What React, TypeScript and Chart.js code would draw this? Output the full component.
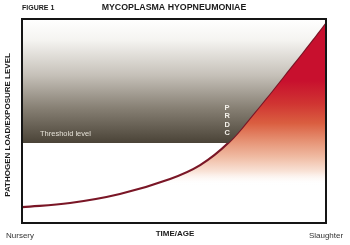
import React, { useEffect, useRef } from "react";
import { Chart, registerables } from "chart.js";

Chart.register(...registerables);

// Curve: pathogen load over time (0 = Nursery, 100 = Slaughter)
const curveX = [0, 15.8, 32.2, 48.7, 58.6, 67.8, 76.6, 85.9, 94.7, 100];
const curveY = [7.8, 9.8, 14.2, 21.6, 28.4, 39.2, 54.4, 71.6, 88.2, 98.5];
const thresholdLevel = 39.2;
const crossingX = 67.8;
const dashedRange = [70.4, 98.7];

const titleText = "MYCOPLASMA HYOPNEUMONIAE";
const figureText = "FIGURE 1";
const xTitle = "TIME/AGE";
const yTitle = "PATHOGEN LOAD/EXPOSURE LEVEL";
const xTickLabels = ["Nursery", "Slaughter"];
const thresholdLabel = "Threshold level";
const crossingLabel = ["P", "R", "D", "C"];

export default function App() {
  const ref = useRef<HTMLCanvasElement>(null);
  useEffect(() => {
    if (!ref.current) return;
    const curve = curveX.map((x, i) => ({ x, y: curveY[i] }));
    const font = "'Liberation Sans', Arial, sans-serif";

    const textPlugin = {
      id: "texts",
      afterDraw(chart: any) {
        const { ctx, chartArea: a, scales } = chart;
        const xs = scales.x;
        const ys = scales.y;
        ctx.save();
        ctx.strokeStyle = "#151515";
        ctx.lineWidth = 2;
        ctx.strokeRect(a.left, a.top, a.right - a.left, a.bottom - a.top);
        ctx.textBaseline = "middle";
        ctx.fillStyle = "#1a1a1a";
        ctx.font = `bold 7px ${font}`;
        ctx.textAlign = "left";
        ctx.fillText(figureText, a.left, 8);
        ctx.font = `bold 8.8px ${font}`;
        ctx.textAlign = "center";
        ctx.fillText(titleText, 174, 8);
        ctx.font = `bold 8px ${font}`;
        ctx.fillText(xTitle, 175, 234);
        ctx.fillStyle = "#333";
        ctx.font = `8px ${font}`;
        ctx.fillText(xTickLabels[0], xs.getPixelForValue(0) - 2, 236);
        ctx.fillText(xTickLabels[1], xs.getPixelForValue(100), 236);
        ctx.save();
        ctx.fillStyle = "#1a1a1a";
        ctx.translate(8, 125);
        ctx.rotate(-Math.PI / 2);
        ctx.font = `bold 8px ${font}`;
        ctx.fillText(yTitle, 0, 0);
        ctx.restore();
        ctx.fillStyle = "#e4e0d6";
        ctx.font = `7.5px ${font}`;
        ctx.textAlign = "left";
        ctx.fillText(thresholdLabel, 40, ys.getPixelForValue(thresholdLevel) - 9);
        ctx.fillStyle = "#f4f1ea";
        ctx.font = `bold 7.5px ${font}`;
        ctx.textAlign = "center";
        const px = xs.getPixelForValue(crossingX) - 1;
        const base = ys.getPixelForValue(thresholdLevel) - 10;
        crossingLabel.forEach((c, i) => {
          ctx.fillText(c, px, base - (crossingLabel.length - 1 - i) * 8.5);
        });
        ctx.restore();
      },
    };

    const chart = new Chart(ref.current, {
      type: "line",
      data: {
        datasets: [
          {
            data: curve,
            borderWidth: 0,
            pointRadius: 0,
            tension: 0.4,
            fill: "end",
            backgroundColor: (c: any) => {
              const a = c.chart.chartArea;
              if (!a) return "#888";
              const ty = c.chart.scales.y.getPixelForValue(thresholdLevel);
              const g = c.chart.ctx.createLinearGradient(0, a.top, 0, a.bottom);
              const f = (y: number) => (y - a.top) / (a.bottom - a.top);
              g.addColorStop(0, "#ffffff");
              g.addColorStop(f(40), "#f5f4f1");
              g.addColorStop(f(75), "#c6c1b9");
              g.addColorStop(f(108), "#878074");
              g.addColorStop(f(ty), "#4a4337");
              g.addColorStop(f(ty) + 0.001, "rgba(255,255,255,0)");
              g.addColorStop(1, "rgba(255,255,255,0)");
              return g;
            },
          },
          {
            data: curve,
            borderWidth: 2.2,
            borderColor: "#7a1626",
            pointRadius: 0,
            tension: 0.4,
            fill: "start",
            backgroundColor: (c: any) => {
              const a = c.chart.chartArea;
              if (!a) return "#c8102e";
              const g = c.chart.ctx.createLinearGradient(0, 22, 0, 185);
              g.addColorStop(0, "#c8102e");
              g.addColorStop(0.36, "#c8102e");
              g.addColorStop(0.5, "#d03432");
              g.addColorStop(0.62, "#da5e40");
              g.addColorStop(0.73, "#e69274");
              g.addColorStop(0.83, "#f0bca4");
              g.addColorStop(0.92, "#f9e4d9");
              g.addColorStop(1, "rgba(255,255,255,0)");
              return g;
            },
          },
          {
            data: [
              { x: dashedRange[0], y: thresholdLevel },
              { x: dashedRange[1], y: thresholdLevel },
            ],
            borderWidth: 1,
            borderColor: "#d47a55",
            borderDash: [3, 3],
            pointRadius: 0,
            fill: false,
          },
        ],
      },
      options: {
        animation: false,
        responsive: true,
        maintainAspectRatio: false,
        layout: { padding: { left: 22, right: 24, top: 19, bottom: 22 } },
        plugins: { legend: { display: false }, tooltip: { enabled: false }, title: { display: false } },
        scales: {
          x: { type: "linear", min: 0, max: 100, display: false },
          y: { type: "linear", min: 0, max: 100, display: false },
        },
      },
      plugins: [textPlugin],
    });
    return () => chart.destroy();
  }, []);
  return (
    <div style={{ position: "absolute", left: 0, top: 0, width: 350, height: 245, background: "#fff" }}>
      <canvas ref={ref} />
    </div>
  );
}
